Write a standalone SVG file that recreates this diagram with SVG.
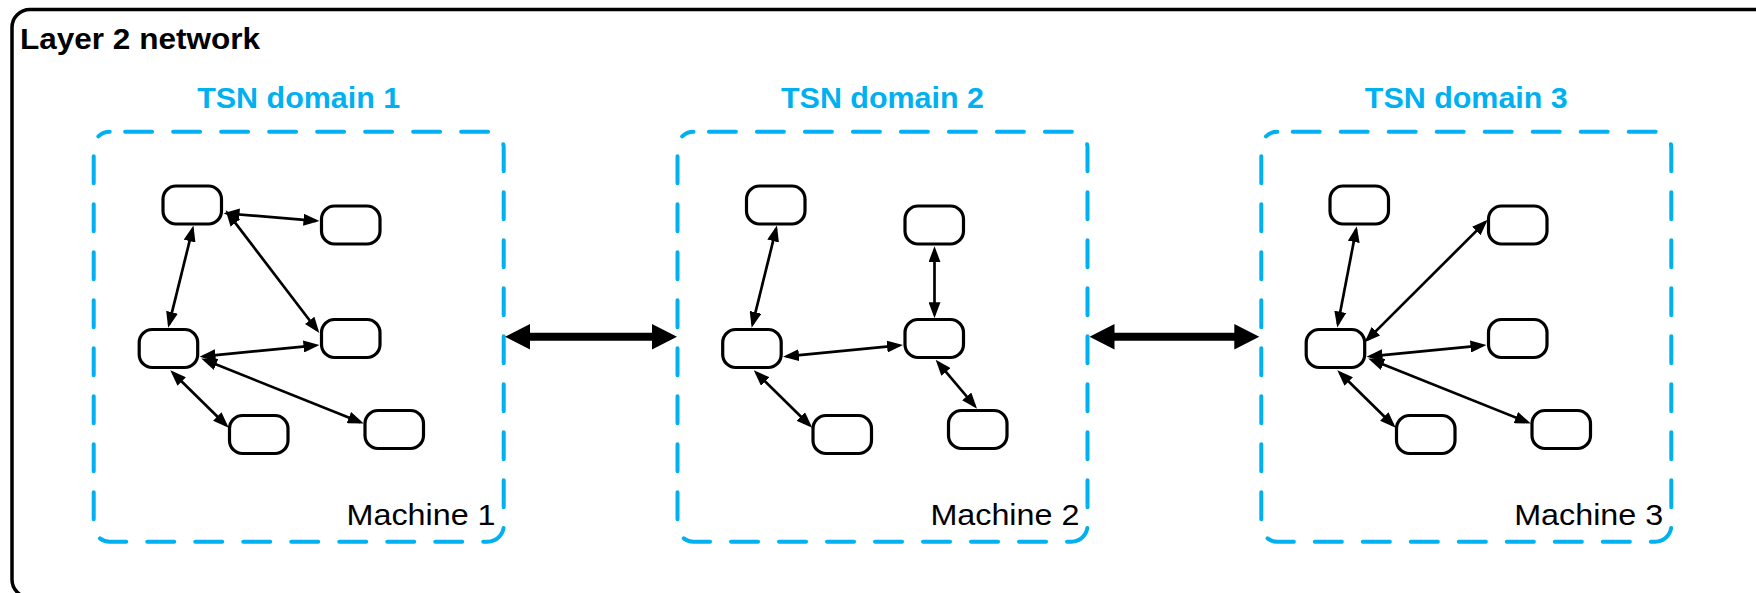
<svg xmlns="http://www.w3.org/2000/svg" width="1756" height="593" viewBox="0 0 1756 593">
<defs>
<style>
.outer{fill:none;stroke:#000;stroke-width:3.5}
.dom{fill:none;stroke:#00B0F0;stroke-width:4;stroke-dasharray:27 21;stroke-dashoffset:32.6;stroke-linecap:round}
.node{fill:#fff;stroke:#000;stroke-width:3.2}
.edge{stroke:#000;stroke-width:2.7;fill:none;marker-start:url(#ah);marker-end:url(#ah)}
.big{fill:#000}
.title{font-family:"Liberation Sans",Arial,sans-serif;font-weight:bold;font-size:30px;fill:#000}
.dlabel{font-family:"Liberation Sans",Arial,sans-serif;font-weight:bold;font-size:30px;fill:#00B0F0;text-anchor:middle}
.mlabel{font-family:"Liberation Sans",Arial,sans-serif;font-size:30px;fill:#000;text-anchor:end}
</style>
<marker id="ah" viewBox="0 0 16 12" refX="12.5" refY="6" markerWidth="16" markerHeight="12" markerUnits="userSpaceOnUse" orient="auto-start-reverse">
<path d="M0,0 L16,6 L0,12 z" fill="#000"/>
</marker>
</defs>
<rect width="1756" height="593" fill="#fff"/>
<g id="layer2">
<rect class="outer" x="12" y="9.5" width="1762" height="588" rx="18"/>
<text class="title" x="20" y="49.3" textLength="240" lengthAdjust="spacingAndGlyphs">Layer 2 network</text>
</g>

<g id="domain1">
<rect class="dom" x="93.7" y="131.7" width="410" height="410" rx="16"/>
<text class="dlabel" x="298.7" y="108.3" textLength="203" lengthAdjust="spacingAndGlyphs">TSN domain 1</text>
<text class="mlabel" x="495.6" y="525" textLength="149" lengthAdjust="spacingAndGlyphs">Machine 1</text>
</g>
<g id="domain2">
<rect class="dom" x="677.5" y="131.7" width="410" height="410" rx="16"/>
<text class="dlabel" x="882.5" y="108.3" textLength="203" lengthAdjust="spacingAndGlyphs">TSN domain 2</text>
<text class="mlabel" x="1079.4" y="525" textLength="149" lengthAdjust="spacingAndGlyphs">Machine 2</text>
</g>
<g id="domain3">
<rect class="dom" x="1261.3" y="131.7" width="410" height="410" rx="16"/>
<text class="dlabel" x="1466.3" y="108.3" textLength="203" lengthAdjust="spacingAndGlyphs">TSN domain 3</text>
<text class="mlabel" x="1663.2" y="525" textLength="149" lengthAdjust="spacingAndGlyphs">Machine 3</text>
</g>

<g id="connectors">
<g id="conn-d1">
<line class="edge" x1="227" y1="213.5" x2="316" y2="220.8"/>
<line class="edge" x1="192.6" y1="228.9" x2="169" y2="324.4"/>
<line class="edge" x1="227.8" y1="213.1" x2="317.2" y2="330.3"/>
<line class="edge" x1="203" y1="356.4" x2="316" y2="345.3"/>
<line class="edge" x1="172.8" y1="372.8" x2="226.2" y2="425.2"/>
<line class="edge" x1="204.5" y1="359.8" x2="360.5" y2="422.2"/>
</g>
<g id="conn-d2" transform="translate(583.5,0)">
<line class="edge" x1="192.6" y1="228.9" x2="169" y2="324.4"/>
<line class="edge" x1="203" y1="356.4" x2="316" y2="345.3"/>
<line class="edge" x1="172.8" y1="372.8" x2="226.2" y2="425.2"/>
<line class="edge" x1="351" y1="249.7" x2="351" y2="314.7"/>
<line class="edge" x1="354.4" y1="362.3" x2="391.3" y2="406"/>
</g>
<g id="conn-d3" transform="translate(1167,0)">
<line class="edge" x1="189.1" y1="229.6" x2="170.9" y2="324.1"/>
<line class="edge" x1="200.1" y1="339.9" x2="318.2" y2="222.1"/>
<line class="edge" x1="203" y1="356.4" x2="316" y2="345.3"/>
<line class="edge" x1="172.8" y1="372.8" x2="226.2" y2="425.2"/>
<line class="edge" x1="204.5" y1="359.8" x2="360.5" y2="422.2"/>
</g>
<polygon id="link12" class="big" points="505,336.7 530,324 530,332.7 652,332.7 652,324 677,336.7 652,349.4 652,340.7 530,340.7 530,349.4"/>
<polygon id="link23" class="big" points="1089.5,336.7 1114.5,324 1114.5,332.7 1234.3,332.7 1234.3,324 1259.3,336.7 1234.3,349.4 1234.3,340.7 1114.5,340.7 1114.5,349.4"/>
</g>

<g id="nodes-d1">
<g id="d1-a"><rect class="node" x="163" y="186" width="58.5" height="38" rx="13"/></g>
<g id="d1-b"><rect class="node" x="321.5" y="206" width="58.5" height="38" rx="13"/></g>
<g id="d1-c"><rect class="node" x="321.5" y="319.5" width="58.5" height="38" rx="13"/></g>
<g id="d1-d"><rect class="node" x="139.2" y="329.5" width="58.5" height="38" rx="13"/></g>
<g id="d1-e"><rect class="node" x="229.5" y="415.5" width="58.5" height="38" rx="13"/></g>
<g id="d1-f"><rect class="node" x="365" y="410.5" width="58.5" height="38" rx="13"/></g>
</g>
<g id="nodes-d2" transform="translate(583.5,0)">
<g id="d2-a"><rect class="node" x="163" y="186" width="58.5" height="38" rx="13"/></g>
<g id="d2-b"><rect class="node" x="321.5" y="206" width="58.5" height="38" rx="13"/></g>
<g id="d2-c"><rect class="node" x="321.5" y="319.5" width="58.5" height="38" rx="13"/></g>
<g id="d2-d"><rect class="node" x="139.2" y="329.5" width="58.5" height="38" rx="13"/></g>
<g id="d2-e"><rect class="node" x="229.5" y="415.5" width="58.5" height="38" rx="13"/></g>
<g id="d2-f"><rect class="node" x="365" y="410.5" width="58.5" height="38" rx="13"/></g>
</g>
<g id="nodes-d3" transform="translate(1167,0)">
<g id="d3-a"><rect class="node" x="163" y="186" width="58.5" height="38" rx="13"/></g>
<g id="d3-b"><rect class="node" x="321.5" y="206" width="58.5" height="38" rx="13"/></g>
<g id="d3-c"><rect class="node" x="321.5" y="319.5" width="58.5" height="38" rx="13"/></g>
<g id="d3-d"><rect class="node" x="139.2" y="329.5" width="58.5" height="38" rx="13"/></g>
<g id="d3-e"><rect class="node" x="229.5" y="415.5" width="58.5" height="38" rx="13"/></g>
<g id="d3-f"><rect class="node" x="365" y="410.5" width="58.5" height="38" rx="13"/></g>
</g>
</svg>
